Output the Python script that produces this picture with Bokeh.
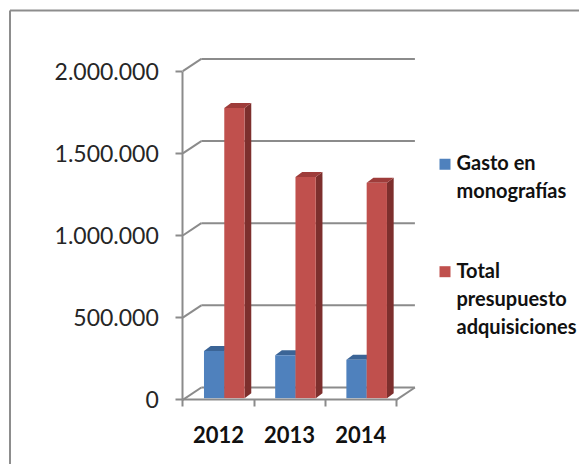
from bokeh.plotting import figure
from bokeh.models import Range1d, LinearAxis, FixedTicker
from bokeh.embed import file_html
from bokeh.resources import INLINE
from bokeh.core.properties import value

# ---- data ----
years = ["2012", "2013", "2014"]
gasto_monografias = [288000, 262000, 234000]
total_presupuesto = [1766000, 1347000, 1312000]
series_names = ["Gasto en\nmonografías", "Total\npresupuesto\nadquisiciones"]
y_ticks = [0, 500000, 1000000, 1500000, 2000000]
y_tick_labels = ["0", "500.000", "1.000.000", "1.500.000", "2.000.000"]

# ---- layout constants (image pixels) ----
W, H = 579, 464
AX_X = 182.3
AX_Y = 399.3
CAT_PX = 71.2
VAL_PER_PX = 2000000 / (399.3 - 70.7)

def dxp(px):
    return px / CAT_PX

def dvp(px):
    return px * VAL_PER_PX

def X(px):
    return (px - AX_X) / CAT_PX

def Y(py):
    return (AX_Y - py) * VAL_PER_PX

GRID = "#8b8b8b"
BLUE, BLUE_TOP, BLUE_SIDE = "#4F81BD", "#3b6496", "#2f5683"
RED, RED_TOP, RED_SIDE = "#C0504D", "#9e3c3a", "#7d2f2d"
FONT = value("Lato")

p = figure(width=W, height=H, output_backend="svg", toolbar_location=None,
           x_range=Range1d(X(0), X(W)), y_range=Range1d(Y(H), Y(0)),
           min_border=0, x_axis_type=None, y_axis_type=None)
p.outline_line_color = None
p.background_fill_color = "white"
p.border_fill_color = "white"

n = len(years)
xs = list(range(n))
DX = dxp(18.5)
DY = dvp(12.3)

# back wall gridlines (incl. floor back edge) and side diagonals
p.segment(x0=[DX] * len(y_ticks), y0=[v + DY for v in y_ticks],
          x1=[n + DX] * len(y_ticks), y1=[v + DY for v in y_ticks],
          line_color=GRID, line_width=2)
p.segment(x0=[0] * len(y_ticks), y0=y_ticks,
          x1=[DX] * len(y_ticks), y1=[v + DY for v in y_ticks],
          line_color=GRID, line_width=2)
# floor right edge
p.segment(x0=[n], y0=[0], x1=[n + DX], y1=[DY], line_color=GRID, line_width=2)

# ---- 3D bars ----
BAR_W = 0.285
BASE = dvp(1.6)
SDX = dxp(6.7)
SDY = dvp(5.0)

def bar3d(offset, vals, front, top, side):
    cx = [i + offset for i in xs]
    tops = [v + BASE for v in vals]
    xl = [c - BAR_W / 2 for c in cx]
    xr = [c + BAR_W / 2 for c in cx]
    p.patches([[r, r + SDX, r + SDX, r] for r in xr],
              [[BASE, BASE + SDY, t + SDY, t] for t in tops],
              fill_color=side, line_color=None)
    p.patches([[l, l + SDX, r + SDX, r] for l, r in zip(xl, xr)],
              [[t, t + SDY, t + SDY, t] for t in tops],
              fill_color=top, line_color=None)
    p.vbar(x=cx, width=BAR_W, bottom=BASE, top=tops, fill_color=front, line_color=None)

bar3d(0.44, gasto_monografias, BLUE, BLUE_TOP, BLUE_SIDE)
bar3d(0.725, total_presupuesto, RED, RED_TOP, RED_SIDE)

# ---- axes ----
yax = LinearAxis(fixed_location=0, bounds=(0, y_ticks[-1]),
                 ticker=FixedTicker(ticks=y_ticks),
                 major_label_overrides={t: l for t, l in zip(y_ticks, y_tick_labels)})
yax.major_tick_out = 7
yax.major_tick_in = 0
yax.minor_tick_out = 0
yax.minor_tick_in = 0
yax.axis_line_color = GRID
yax.axis_line_width = 2
yax.major_tick_line_color = GRID
yax.major_tick_line_width = 2
yax.major_label_text_font = "Lato"
yax.major_label_text_font_size = "23px"
yax.major_label_text_color = "#262626"
yax.major_label_standoff = 17
p.add_layout(yax, "left")

xax = LinearAxis(fixed_location=0, bounds=(0, n), ticker=FixedTicker(ticks=list(range(n + 1))))
xax.major_tick_out = 7
xax.major_tick_in = 0
xax.minor_tick_out = 0
xax.minor_tick_in = 0
xax.axis_line_color = GRID
xax.axis_line_width = 2
xax.major_tick_line_color = GRID
xax.major_tick_line_width = 2
xax.major_label_text_color = None
p.add_layout(xax, "below")

cats = [i + 0.5 for i in xs]
xlab = LinearAxis(fixed_location=0, ticker=FixedTicker(ticks=cats),
                  major_label_overrides={c: y for c, y in zip(cats, years)})
xlab.axis_line_color = None
xlab.major_tick_line_color = None
xlab.major_tick_out = 0
xlab.major_tick_in = 0
xlab.minor_tick_out = 0
xlab.minor_tick_in = 0
xlab.major_label_standoff = 26
xlab.major_label_text_font = "Lato"
xlab.major_label_text_font_style = "bold"
xlab.major_label_text_font_size = "22px"
xlab.major_label_text_color = "#111111"
p.add_layout(xlab, "below")

# ---- legend ----
LEG_SQ_X = 444.5
LEG_SQ_Y = [163.8, 271.2]
LEG_TEXT_TOP = [161.5, 269.0]
LINE_STEP = 28
p.scatter(x=[X(LEG_SQ_X)] * 2, y=[Y(s) for s in LEG_SQ_Y],
          marker="square", size=11, color=[BLUE, RED], line_color=None)
tx, ty, tt = [], [], []
for name, b in zip(series_names, LEG_TEXT_TOP):
    for k, line in enumerate(name.split("\n")):
        tx.append(X(456))
        ty.append(Y(b + k * LINE_STEP))
        tt.append(line)
p.text(x=tx, y=ty, text=tt, text_font=FONT, text_font_style="bold",
       text_font_size="20px", text_baseline="alphabetic", text_align="left",
       text_color="#111111")

# ---- chart frame border ----
p.segment(x0=[X(9.5), X(9.5)], y0=[Y(10), Y(10)], x1=[X(W), X(9.5)],
          y1=[Y(10), Y(H)], line_color="#8d8d8d", line_width=2)

open("out.html", "w").write(file_html(p, INLINE))
